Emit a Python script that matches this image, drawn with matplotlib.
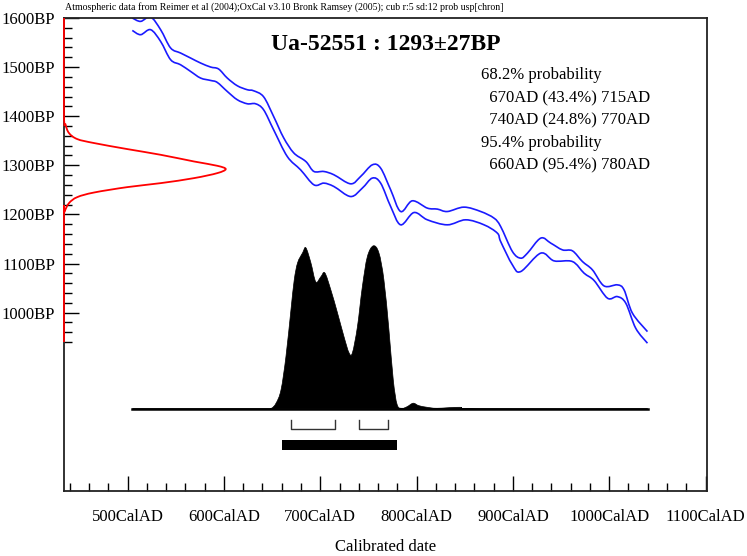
import numpy as np
import matplotlib
matplotlib.use("Agg")
import matplotlib.pyplot as plt
import matplotlib.transforms as mtransforms
from matplotlib.path import Path
from matplotlib.patches import PathPatch

plt.rcParams['font.family'] = ['Liberation Serif', 'DejaVu Serif']

# ---------------- data ----------------
title = "Ua-52551 : 1293\u00b127BP"
header = ("Atmospheric data from Reimer et al (2004);OxCal v3.10 Bronk Ramsey (2005); "
          "cub r:5 sd:12 prob usp[chron]")
x_ticks = [500, 600, 700, 800, 900, 1000, 1100]
x_tick_labels = [f"{v}CalAD" for v in x_ticks]
y_ticks = [1000, 1100, 1200, 1300, 1400, 1500, 1600]
y_tick_labels = [f"{v}BP" for v in y_ticks]

# calibration curve (+/- 1 sigma envelope)
upper_years = [504.9, 513.5, 523.9, 534.3, 544.7, 555.0, 565.4, 575.8, 586.2, 594.5,
               603.5, 613.9, 624.3, 630.8, 641.2, 651.6, 662.0, 672.4, 682.8, 686.6,
               693.5, 703.8, 714.2, 731.6, 741.9, 754.1, 762.7, 773.1, 783.5, 795.6,
               811.2, 821.6, 832.0, 849.2, 866.6, 880.4, 887.3, 899.5, 908.1, 915.1,
               928.9, 939.3, 951.4, 961.8, 972.2, 982.6, 994.6, 1008.5, 1015.4, 1024.1,
               1039.7]
upper_bp = [1600.0, 1593.1, 1602.0, 1576.2, 1538.9, 1528.7, 1518.5, 1508.3, 1500.1, 1496.1,
            1477.7, 1462.0, 1453.9, 1451.8, 1439.6, 1399.5, 1356.1, 1325.5, 1311.2, 1304.5,
            1287.4, 1287.4, 1280.7, 1262.3, 1277.2, 1301.0, 1294.3, 1250.1, 1205.9, 1227.7,
            1212.8, 1210.8, 1205.9, 1214.8, 1205.9, 1192.4, 1175.3, 1124.4, 1110.9, 1121.1,
            1151.7, 1141.5, 1127.8, 1125.8, 1104.0, 1087.0, 1054.4, 1056.5, 1046.3, 998.8,
            961.3]
lower_years = [504.9, 513.5, 523.9, 534.3, 544.7, 555.0, 565.4, 575.8, 586.2, 593.1,
               603.5, 613.9, 624.3, 632.9, 641.2, 651.6, 665.8, 679.6, 693.5, 703.8,
               714.2, 731.6, 743.7, 754.1, 762.7, 773.1, 783.5, 797.3, 811.2, 832.0,
               851.0, 870.0, 883.9, 887.3, 899.5, 908.1, 928.9, 942.7, 961.8, 973.9,
               984.3, 998.2, 1008.5, 1017.2, 1027.5, 1039.7]
lower_bp = [1574.7, 1566.0, 1576.2, 1552.3, 1515.0, 1504.8, 1491.2, 1477.7, 1472.8, 1468.8,
            1450.4, 1433.5, 1425.3, 1425.3, 1413.1, 1372.4, 1317.9, 1290.8, 1260.2, 1263.7,
            1256.8, 1236.4, 1253.6, 1274.0, 1263.7, 1216.1, 1178.8, 1203.8, 1189.0, 1178.8,
            1189.0, 1178.8, 1161.8, 1144.7, 1097.2, 1083.6, 1121.1, 1105.4, 1104.0, 1080.3,
            1065.3, 1029.4, 1032.6, 1019.2, 968.2, 937.7]

# radiocarbon date distribution (relative)
date_bp = [1600, 1403, 1382.6, 1365.6, 1353.4, 1345.3, 1333.0, 1321.4, 1307.8, 1299.0,
           1292.3, 1284.1, 1273.9, 1263.7, 1255.6, 1244.6, 1235.2, 1223.0, 1205.9, 1195.7, 940]
date_prob = [0, 0, 0.01, 0.031, 0.082, 0.186, 0.392, 0.598, 0.804, 0.948,
             1.0, 0.948, 0.804, 0.598, 0.392, 0.186, 0.082, 0.031, 0.004, 0, 0]

# calibrated date distribution (relative)
cal_years = [505, 640, 648.9, 654.1, 659.3, 664.4, 669.6, 673.0, 676.5, 681.7, 685.1,
             690.3, 695.4, 700.6, 704.8, 711.0, 717.9, 724.7, 729.9, 733.4, 738.6,
             743.7, 748.9, 755.1, 760.9, 766.1, 771.3, 775.8, 779.9, 785.1, 790.3,
             796.5, 802.3, 811.0, 821.3, 845.0, 866.0, 1040]
cal_prob = [0, 0, 0.003, 0.035, 0.117, 0.32, 0.607, 0.79, 0.896, 0.957, 0.988,
            0.896, 0.779, 0.81, 0.834, 0.73, 0.589, 0.442, 0.344, 0.344, 0.503,
            0.748, 0.933, 1.0, 0.957, 0.791, 0.485, 0.178, 0.025, 0.004, 0.014,
            0.035, 0.02, 0.01, 0.004, 0.01, 0.0, 0]

range68 = [(670, 715), (740, 770)]
range95 = [(660, 780)]
summary_lines = ["68.2% probability",
                 "  670AD (43.4%) 715AD",
                 "  740AD (24.8%) 770AD",
                 "95.4% probability",
                 "  660AD (95.4%) 780AD"]


def smooth_path(xs, ys, close_to=None):
    """Catmull-Rom style Bezier path through the given points (rendering only)."""
    p = np.column_stack([xs, ys]).astype(float)
    n = len(p)
    verts = [p[0]]
    codes = [Path.MOVETO]
    for i in range(n - 1):
        p0 = p[i - 1] if i > 0 else p[i]
        p1 = p[i]
        p2 = p[i + 1]
        p3 = p[i + 2] if i + 2 < n else p[i + 1]
        c1 = p1 + (p2 - p0) / 6.0
        c2 = p2 - (p3 - p1) / 6.0
        verts += [c1, c2, p2]
        codes += [Path.CURVE4] * 3
    if close_to is not None:
        verts += [np.array([p[-1, 0], close_to]), np.array([p[0, 0], close_to]), p[0]]
        codes += [Path.LINETO, Path.LINETO, Path.CLOSEPOLY]
    return Path(np.array(verts), codes)


# ---------------- figure ----------------
W, H = 747, 556
fig = plt.figure(figsize=(W / 100, H / 100), dpi=100)
L, R, T, B = 64, 707, 18, 491
ax = fig.add_axes([L / W, 1 - B / H, (R - L) / W, (B - T) / H])
ax.set_xlim(434, 1101.5)
ax.set_ylim(636.7, 1600)

for s in ax.spines.values():
    s.set_linewidth(1.3)
    s.set_color('#222222')

# ticks
ax.set_xticks(x_ticks)
ax.set_xticklabels(x_tick_labels)
ax.set_xticks(np.arange(440, 1101, 20), minor=True)
ax.set_yticks(y_ticks)
ax.set_yticklabels(y_tick_labels)
ax.set_yticks(np.arange(940, 1601, 20), minor=True)
ax.tick_params(axis='both', which='major', direction='in', length=11, width=1,
               labelsize=12, color='black')
ax.tick_params(axis='both', which='minor', direction='in', length=5.5, width=1,
               color='black')
ax.tick_params(axis='x', which='major', pad=13)
ax.tick_params(axis='y', which='major', pad=6.5)

# calibration curve
for xs, ys in [(upper_years, upper_bp), (lower_years, lower_bp)]:
    ax.add_patch(PathPatch(smooth_path(xs, ys), facecolor='none',
                           edgecolor='#1a1aff', lw=1.2))

# radiocarbon date distribution on the y axis
tr_y = mtransforms.blended_transform_factory(ax.transAxes, ax.transData)
ax.add_patch(PathPatch(smooth_path(np.array(date_prob) * 0.2515, date_bp),
                       facecolor='none', edgecolor='red', lw=1.3,
                       transform=tr_y, clip_on=False, zorder=5))

# calibrated distribution
tr_x = mtransforms.blended_transform_factory(ax.transData, ax.transAxes)
base = 0.1735
height = 0.3448
ax.add_patch(PathPatch(smooth_path(cal_years, base + np.array(cal_prob) * height,
                                   close_to=base),
                       facecolor='black', edgecolor='black', lw=0.5, transform=tr_x))
ax.plot([cal_years[0], cal_years[-1]], [base, base], color='black', lw=1.8,
        transform=tr_x)

# ranges
for a, b in range68:
    ax.plot([a, a, b, b], [0.150, 0.1305, 0.1305, 0.150], color='#333333', lw=1,
            transform=tr_x)
for a, b in range95:
    ax.fill_between([a, b], 0.0867, 0.1079, color='black', transform=tr_x, lw=0)

# texts
fig.text(65 / W, 1 - 7 / H, header, fontsize=7.1, ha='left', va='center')
fig.text(386 / W, 1 - 44 / H, title, fontsize=17, fontweight='bold',
         ha='center', va='center')
ys = [75, 98, 120, 143, 165]
for line, yy in zip(summary_lines, ys):
    fig.text(481 / W, 1 - yy / H, line, fontsize=12, ha='left', va='center')
fig.text(386 / W, 1 - 547 / H, "Calibrated date", fontsize=12,
         ha='center', va='center')

fig.savefig("out.png", dpi=100)
